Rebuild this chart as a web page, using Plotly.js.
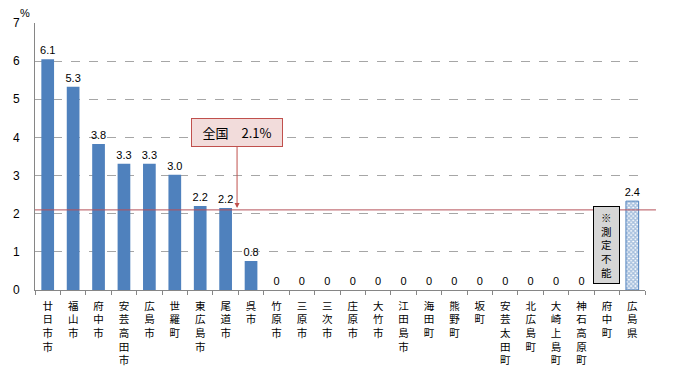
<!DOCTYPE html>
<html><head><meta charset="utf-8">
<script src="https://cdn.plot.ly/plotly-3.0.1.min.js"></script>
<style>body{margin:0;background:#fff}#c{width:677px;height:371px}</style>
</head><body><div id="c"></div>
<script>
const categories = ['廿日市市','福山市','府中市','安芸高田市','広島市','世羅町','東広島市','尾道市','呉市','竹原市','三原市','三次市','庄原市','大竹市','江田島市','海田町','熊野町','坂町','安芸太田町','北広島町','大崎上島町','神石高原町','府中町','広島県'];
const values = [6.05,5.33,3.83,3.31,3.31,3.02,2.2,2.15,0.76,0,0,0,0,0,0,0,0,0,0,0,0,0,null,2.33];
const valueLabels = ['6.1','5.3','3.8','3.3','3.3','3.0','2.2','2.2','0.8','0','0','0','0','0','0','0','0','0','0','0','0','0','','2.4'];
const nationalValue = 2.1;
const nationalLabel = '全国　2.1%';
const unmeasuredCategory = '府中町';
const unmeasuredLabel = '※測定不能';
const prefCategory = '広島県';

const FONT = 'Liberation Sans, Arial, Noto Sans CJK JP, sans-serif';
const BLUE = '#4f81bd';
const isPref = categories.map(c => c === prefCategory);

const cityTrace = {
  type: 'bar',
  x: categories,
  y: values.map((v, i) => isPref[i] ? null : v),
  text: valueLabels.map((t, i) => isPref[i] ? '' : t),
  textposition: 'outside',
  constraintext: 'none',
  cliponaxis: false,
  textfont: {family: FONT, size: 11, color: '#000'},
  marker: {color: BLUE, line: {width: 0}},
  hoverinfo: 'skip'
};
const prefTrace = {
  type: 'bar',
  x: categories,
  y: values.map((v, i) => isPref[i] ? v : null),
  text: valueLabels.map((t, i) => isPref[i] ? t : ''),
  textposition: 'outside',
  constraintext: 'none',
  cliponaxis: false,
  textfont: {family: FONT, size: 11, color: '#000'},
  marker: {
    color: '#ffffff',
    line: {color: BLUE, width: 1},
    pattern: {shape: 'x', fgcolor: BLUE, bgcolor: '#ffffff', size: 3, solidity: 0.7, fillmode: 'overlay'}
  },
  hoverinfo: 'skip'
};

const layout = {
  width: 677, height: 371,
  margin: {l: 35, r: 32, t: 23, b: 81},
  paper_bgcolor: '#fff', plot_bgcolor: '#fff',
  showlegend: false,
  barmode: 'overlay',
  bargap: 0.5,
  font: {family: FONT, size: 11, color: '#000'},
  xaxis: {
    type: 'category',
    tickvals: categories,
    ticktext: categories.map(c => c.split('').join('<br>')),
    tickfont: {family: 'Noto Sans CJK JP, sans-serif', size: 10.5, color: '#000'},
    tickangle: 0, ticklabelstandoff: 6,
    showline: true, linecolor: '#868686', linewidth: 1,
    ticks: 'outside', tickson: 'boundaries', ticklen: 4, tickcolor: '#868686',
    showgrid: false, zeroline: false, fixedrange: true
  },
  yaxis: {
    range: [0, 7], dtick: 1,
    tickfont: {family: FONT, size: 12, color: '#000'},
    showline: true, linecolor: '#868686', linewidth: 1,
    showgrid: true, gridcolor: '#a6a6a6', griddash: 'dash', gridwidth: 1,
    zeroline: false, ticks: '', ticklabelstandoff: 12, fixedrange: true
  },
  shapes: [{
    type: 'line', xref: 'paper', x0: 0, x1: 1.018, yref: 'y', y0: nationalValue, y1: nationalValue,
    line: {color: '#b5525a', width: 1}
  }],
  annotations: [
    {xref: 'paper', yref: 'paper', x: 0, y: 1, xanchor: 'right', yanchor: 'bottom', xshift: -3, yshift: 2,
     text: '%', showarrow: false, font: {family: FONT, size: 11, color: '#000'}},
    {xref: 'x', yref: 'y', x: 7.45, y: nationalValue, text: nationalLabel,
     showarrow: true, arrowhead: 2, arrowsize: 1, arrowwidth: 1, arrowcolor: '#c0504d',
     ax: 0, ay: -77, standoff: 2,
     bgcolor: '#f2dcdb', bordercolor: '#c0504d', borderwidth: 1, borderpad: 4,
     width: 82,
     font: {family: 'Noto Sans CJK JP, sans-serif', size: 13, color: '#000'}},
    {xref: 'x', yref: 'y', x: unmeasuredCategory, y: 0, yanchor: 'bottom', yshift: 6,
     text: unmeasuredLabel.split('').join('<br>'), showarrow: false,
     bgcolor: '#d6d6d6', bordercolor: '#000', borderwidth: 1, borderpad: 3, width: 19,
     font: {family: 'Noto Sans CJK JP, sans-serif', size: 10.5, color: '#000'}}
  ]
};

Plotly.newPlot('c', [cityTrace, prefTrace], layout, {displayModeBar: false, staticPlot: true});
</script></body></html>
